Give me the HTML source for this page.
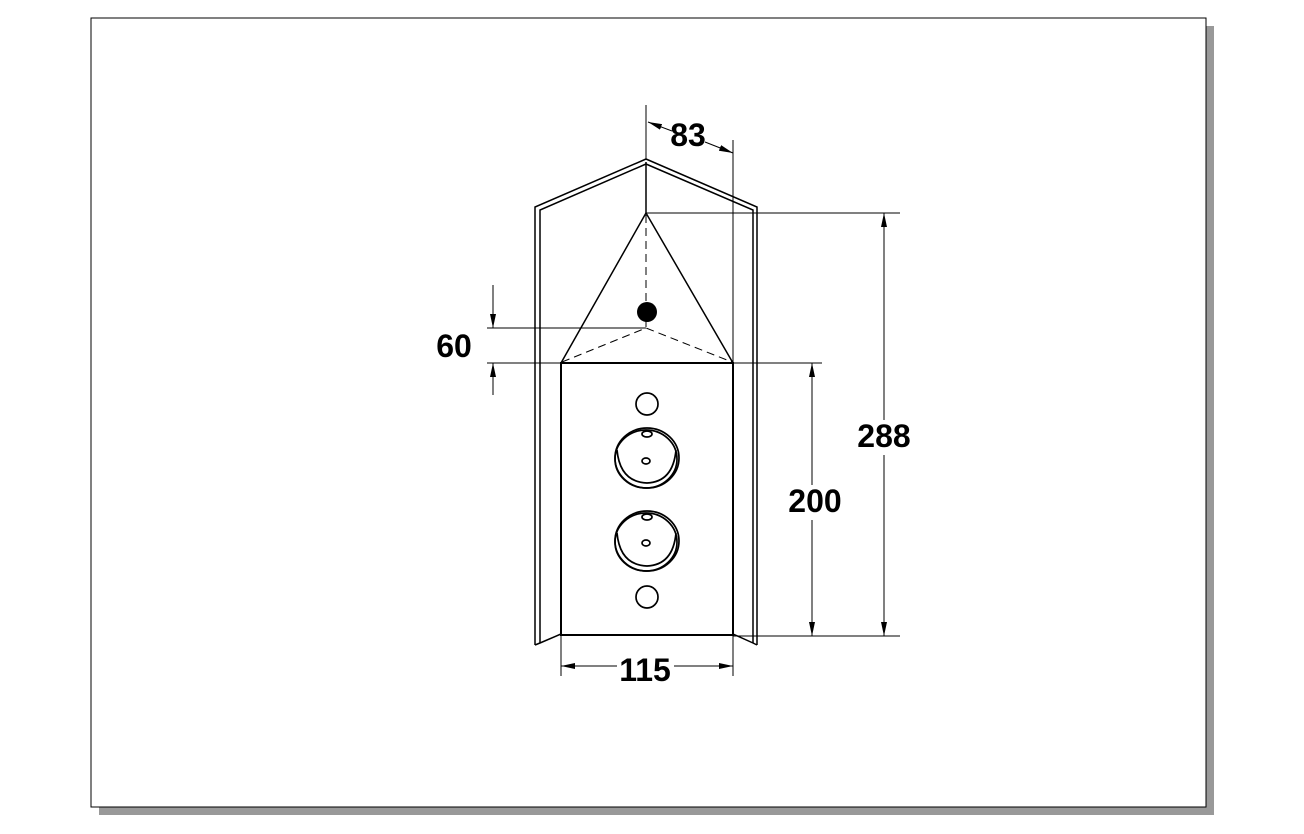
<!DOCTYPE html>
<html><head><style>body{margin:0;background:#fff}svg{display:block}</style></head><body>
<svg width="1304" height="834" viewBox="0 0 1304 834" xmlns="http://www.w3.org/2000/svg">
<defs>
<marker id="a" markerWidth="14" markerHeight="6" refX="14" refY="3" orient="auto" markerUnits="userSpaceOnUse"><path d="M0,0 L14,3 L0,6 z" fill="#000"/></marker>
</defs>
<rect x="99" y="26" width="1115" height="789" fill="#999"/>
<rect x="91" y="18" width="1115" height="789" fill="#fff" stroke="#000" stroke-width="1"/>
<g fill="none" stroke="#000" stroke-width="1.5">
<path d="M535,645 L535,207 L646,159 L757,207 L757,645"/>
<path d="M540,643 L540,210 L646,164 L753,210 L753,643"/>
<path d="M535,645 L540,643 M540,643 L561,634 M753,643 L733,634 M757,645 L753,643"/>
<line x1="646" y1="162" x2="646" y2="213"/>
<rect x="561" y="363" width="172" height="272" stroke-width="2"/>
<path d="M646,213 L561,363 M646,213 L733,363"/>
</g>
<g fill="none" stroke="#000" stroke-width="1" stroke-dasharray="8,5">
<line x1="646" y1="215" x2="646" y2="328"/>
<path d="M562,362 L646,328 L732,362"/>
</g>
<circle cx="647" cy="312" r="10" fill="#000"/>
<g fill="none" stroke="#000" stroke-width="1.7">
<circle cx="647" cy="404" r="11"/>
<circle cx="647" cy="597" r="11"/>
<ellipse cx="647" cy="458" rx="32" ry="30"/><ellipse cx="646" cy="459" rx="31" ry="29"/>
<path d="M617,450 Q620,482 647,483 Q673,482 676,450"/>
<ellipse cx="647" cy="434" rx="5" ry="3"/><ellipse cx="646" cy="461" rx="4" ry="3"/>
<ellipse cx="647" cy="541" rx="32" ry="30"/><ellipse cx="646" cy="542" rx="31" ry="29"/>
<path d="M617,533 Q620,565 647,566 Q673,565 676,533"/>
<ellipse cx="647" cy="517" rx="5" ry="3"/><ellipse cx="646" cy="543" rx="4" ry="3"/>
</g>
<g stroke="#000" stroke-width="1" fill="none">
<line x1="646" y1="105" x2="646" y2="160"/>
<line x1="733" y1="140" x2="733" y2="363"/>
<line x1="672" y1="131" x2="648" y2="122" marker-end="url(#a)"/>
<line x1="705" y1="142" x2="733" y2="153" marker-end="url(#a)"/>
<line x1="646" y1="213" x2="900" y2="213"/>
<line x1="733" y1="636" x2="900" y2="636"/>
<line x1="884" y1="420" x2="884" y2="213" marker-end="url(#a)"/>
<line x1="884" y1="455" x2="884" y2="636" marker-end="url(#a)"/>
<line x1="733" y1="363" x2="822" y2="363"/>
<line x1="812" y1="485" x2="812" y2="363" marker-end="url(#a)"/>
<line x1="812" y1="520" x2="812" y2="636" marker-end="url(#a)"/>
<line x1="487" y1="328" x2="646" y2="328"/>
<line x1="487" y1="363" x2="561" y2="363"/>
<line x1="493" y1="285" x2="493" y2="328" marker-end="url(#a)"/>
<line x1="493" y1="395" x2="493" y2="363" marker-end="url(#a)"/>
<line x1="561" y1="636" x2="561" y2="676"/>
<line x1="733" y1="636" x2="733" y2="676"/>
<line x1="617" y1="666" x2="561" y2="666" marker-end="url(#a)"/>
<line x1="674" y1="666" x2="733" y2="666" marker-end="url(#a)"/>
</g>
<g font-family="Liberation Sans, sans-serif" font-weight="bold" font-size="32" fill="#000" text-anchor="middle">
<text x="688" y="146">83</text>
<text x="884" y="447">288</text>
<text x="815" y="512">200</text>
<text x="454" y="357">60</text>
<text x="645" y="681">115</text>
</g>
</svg>
</body></html>
